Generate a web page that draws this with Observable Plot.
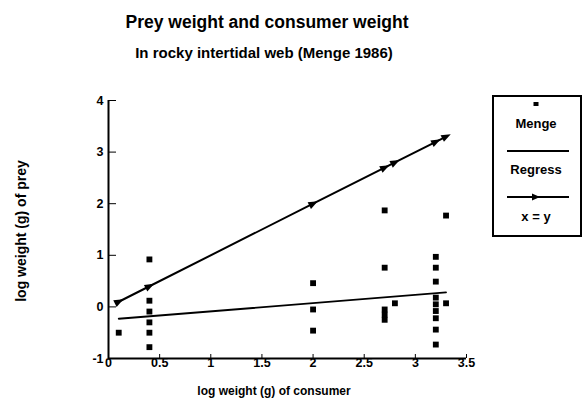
<!DOCTYPE html>
<html>
<head>
<meta charset="utf-8">
<script src="https://cdn.jsdelivr.net/npm/d3@7"></script>
<script src="https://cdn.jsdelivr.net/npm/@observablehq/plot@0.6"></script>
<style>
  body { margin: 0; background: #fff; font-family: "Liberation Sans", Arial, sans-serif; }
  #wrap { position: relative; width: 584px; height: 404px; overflow: hidden; }
  #wrap svg.plot { position: absolute; left: 0; top: 0; }
  .t { position: absolute; font-weight: bold; color: #000; text-align: center; white-space: nowrap; }
  #legend { position: absolute; left: 492px; top: 95px; width: 86px; height: 138px; border: 2px solid #000; }
</style>
</head>
<body>
<div id="wrap">
  <div class="t" style="left:0;width:534px;top:12px;font-size:17.5px;line-height:20px;">Prey weight and consumer weight</div>
  <div class="t" style="left:0;width:528px;top:44px;font-size:15px;line-height:18px;">In rocky intertidal web (Menge 1986)</div>
  <div class="t" style="left:-79px;width:200px;top:222px;font-size:14px;line-height:18px;transform:rotate(-90deg);">log weight (g) of prey</div>
  <div class="t" style="left:124px;width:300px;top:383px;font-size:12px;line-height:16px;">log weight (g) of consumer</div>
  <div id="legend"></div>
</div>
<script>
// Menge observations: consumer log weight (x) and prey log weight (y)
const mengeX = [0.1,
  0.4, 0.4, 0.4, 0.4, 0.4, 0.4,
  2.0, 2.0, 2.0,
  2.7, 2.7, 2.7, 2.7, 2.7,
  2.8,
  3.2, 3.2, 3.2, 3.2, 3.2, 3.2, 3.2, 3.2, 3.2,
  3.3, 3.3];
const mengeY = [-0.5,
  0.92, 0.12, -0.09, -0.3, -0.5, -0.78,
  0.46, -0.05, -0.46,
  1.87, 0.76, -0.05, -0.15, -0.25,
  0.07,
  0.97, 0.76, 0.49, 0.18, 0.05, -0.08, -0.22, -0.44, -0.73,
  1.77, 0.07];
// Regression line end points
const regressX = [0.1, 3.3];
const regressY = [-0.23, 0.28];
// x = y reference line points (at consumer weights)
const identityX = [0.1, 0.4, 2.0, 2.7, 2.8, 3.2, 3.3];
const xTicks = [0, 0.5, 1, 1.5, 2, 2.5, 3, 3.5];
const yTicks = [-1, 0, 1, 2, 3, 4];
const legendLabels = ["Menge", "Regress", "x = y"];

const menge = mengeX.map((x, i) => ({x, y: mengeY[i]}));
const regress = regressX.map((x, i) => ({x, y: regressY[i]}));
const identity = identityX.map(x => ({x, y: x}));

const font = "bold 12px 'Liberation Sans', Arial, sans-serif";

// right-pointing triangle symbol
const arrowHead = {
  draw(ctx, size) {
    const h = Math.sqrt(size) * 0.65;
    ctx.moveTo(h, 0);
    ctx.lineTo(-h * 0.8, -h * 0.7);
    ctx.lineTo(-h * 0.8, h * 0.7);
    ctx.closePath();
  }
};

const chart = Plot.plot({
  width: 584,
  height: 404,
  marginLeft: 108,
  marginRight: 118,
  marginTop: 100,
  marginBottom: 46,
  style: {font, background: "transparent", color: "#000"},
  x: {domain: [0, 3.5]},
  y: {domain: [-1, 4]},
  marks: [
    Plot.axisX({ticks: xTicks, tickSize: -4, tickPadding: 4, tickFormat: d => String(d), label: null, fontWeight: "bold", fontSize: 12.5}),
    Plot.axisY({ticks: yTicks, tickSize: -8, tickPadding: 13, tickFormat: d => String(d), label: null, fontWeight: "bold", fontSize: 12.5}),
    Plot.ruleX([0], {stroke: "#000", strokeWidth: 2}),
    Plot.ruleY([-1], {stroke: "#000", strokeWidth: 2}),
    Plot.line(identity, {x: "x", y: "y", stroke: "#000", strokeWidth: 2}),
    Plot.dot(identity, {x: "x", y: "y", symbol: arrowHead, r: 4.6, fill: "#000", stroke: "none", rotate: -27}),
    Plot.line(regress, {x: "x", y: "y", stroke: "#000", strokeWidth: 1.8}),
    Plot.dot(menge, {x: "x", y: "y", symbol: "square", r: 3.3, fill: "#000", stroke: "none"})
  ]
});
chart.classList.add("plot");
document.getElementById("wrap").prepend(chart);

// Legend
const lg = d3.select("#legend");
const ls = lg.append("svg").attr("width", 86).attr("height", 138)
  .style("position", "absolute").style("left", 0).style("top", 0);
const cx = 42;
const lf = "bold 13px 'Liberation Sans', Arial";
ls.append("rect").attr("x", cx - 2.5).attr("y", 5).attr("width", 5).attr("height", 4).attr("fill", "#000");
ls.append("text").attr("x", cx).attr("y", 31).attr("text-anchor", "middle").style("font", lf).text(legendLabels[0]);
ls.append("line").attr("x1", 13).attr("x2", 75).attr("y1", 54).attr("y2", 54).attr("stroke", "#000").attr("stroke-width", 2);
ls.append("text").attr("x", cx).attr("y", 77).attr("text-anchor", "middle").style("font", lf).text(legendLabels[1]);
ls.append("line").attr("x1", 13).attr("x2", 75).attr("y1", 100).attr("y2", 100).attr("stroke", "#000").attr("stroke-width", 2);
ls.append("path").attr("d", `M${cx-4},96.5L${cx+4},100L${cx-4},103.5Z`).attr("fill", "#000");
ls.append("text").attr("x", cx).attr("y", 124).attr("text-anchor", "middle").style("font", lf).text(legendLabels[2]);
</script>
</body>
</html>
